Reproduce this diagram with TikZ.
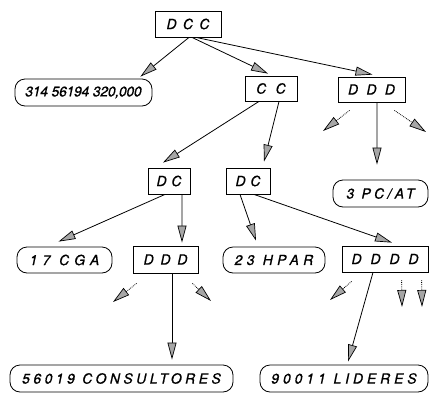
\documentclass[tikz,border=0pt]{standalone}
\usepackage{fontspec}
\setmainfont[FakeBold=0.8]{TeX Gyre Heros}
\usetikzlibrary{arrows.meta,calc}
\newcommand{\tx}[2]{{\addfontfeature{LetterSpace=#1}#2}}
\tikzset{
  sq/.style={draw, line width=0.8pt, inner sep=0pt, font=\itshape\fontsize{14}{14}\selectfont},
  rd/.style={sq, rounded corners=10bp},
  con/.style={line width=0.8pt, -{Triangle[length=17bp,width=9bp,fill=gray!70,line width=0.7pt]}},
  dang/.style={con, densely dotted},
}
\begin{document}
\begin{tikzpicture}[x=1bp,y=-1bp]
\useasboundingbox (0,0) rectangle (430,395);
% nodes
\node[sq, minimum width=66bp, minimum height=26bp] (dcc) at (188,24) {\tx{18}{D C C}};
\node[rd, minimum width=137bp, minimum height=27bp] (n314) at (83.5,92.5) {\tx{-2}{314 56194 320,000}};
\node[sq, minimum width=52bp, minimum height=25bp] (cc) at (271,88.5) {\tx{39}{C C}};
\node[sq, minimum width=67bp, minimum height=25bp] (ddda) at (371.5,89.5) {\tx{32}{D D D}};
\node[rd, minimum width=95bp, minimum height=27bp] (pcat) at (380.5,193.5) {\tx{24}{3 PC/AT}};
\node[sq, minimum width=42bp, minimum height=26bp] (dcl) at (169,181) {\tx{7}{D C}};
\node[sq, minimum width=44bp, minimum height=26bp] (dcr) at (248,181) {\tx{7}{D C}};
\node[rd, minimum width=95bp, minimum height=26bp] (cga) at (64.5,260) {\tx{36}{17 CGA}};
\node[sq, minimum width=65bp, minimum height=27bp] (dddb) at (165.5,259.5) {\tx{21}{D D D}};
\node[rd, minimum width=102bp, minimum height=26bp] (hpar) at (274,260) {\tx{31}{23 HPAR}};
\node[sq, minimum width=86bp, minimum height=26bp] (dddd) at (385,259) {\tx{36}{D D D D}};
\node[rd, minimum width=223bp, minimum height=27bp] (cons) at (121.5,378.5) {\tx{25}{56019 CONSULTORES}};
\node[rd, minimum width=168bp, minimum height=27bp] (lid) at (344,378.5) {\tx{28}{90011 LIDERES}};
% connectors
\draw[con] ($(dcc.south)+(1,0)$) -- ($(n314.north east)+(-12,-2)$);
\draw[con] ($(dcc.south)+(4,0)$) -- ($(cc.north)+(-3,-2)$);
\draw[con] ($(dcc.south)+(8,0)$) -- ($(ddda.north)+(1,-2)$);
\draw[con] ($(ddda.south)+(5.5,0)$) -- ($(pcat.north)+(-3.5,-15)$);
\draw[con] ($(cc.south)+(-12,0)$) -- ($(dcl.north)+(-6,-5)$);
\draw[con] ($(cc.south)+(8,0)$) -- ($(dcr.north)+(16,-6)$);
\draw[con] ($(dcl.south)+(-4,0)$) -- ($(cga.north)+(-6,-5)$);
\draw[con] ($(dcl.south)+(13,0)$) -- ($(dddb.north)+(16.5,-3)$);
\draw[con] ($(dcr.south)+(-8,0)$) -- ($(hpar.north)+(-18,-6)$);
\draw[con] ($(dcr.south)+(6,0)$) -- ($(dddd.north)+(7,-3)$);
\draw[con] ($(dddb.south)+(6.5,0)$) -- ($(cons.north)+(50.5,-5)$);
\draw[con] ($(dddd.south)+(-12,0)$) -- ($(lid.north)+(4,-3)$);
% dangling arrows
\coordinate (a1) at (323,131);
\coordinate (a2) at (426,132);
\coordinate (b1) at (113,302);
\coordinate (b2) at (211,301);
\coordinate (c1) at (330,300);
\coordinate (c2) at (402,307);
\coordinate (c3) at (422,307);
\draw[dang] ($(ddda.south west)+(12,8)$) -- (a1);
\draw[dang] ($(ddda.south east)+(-11,8)$) -- (a2);
\draw[dang] ($(dddb.south west)+(4,10)$) -- (b1);
\draw[dang] ($(dddb.south east)+(-6,10)$) -- (b2);
\draw[dang] ($(dddd.south west)+(10,9)$) -- (c1);
\draw[dang] ($(dddd.south west)+(60,8)$) -- (c2);
\draw[dang] ($(dddd.south west)+(80,8)$) -- (c3);
\end{tikzpicture}
\end{document}
